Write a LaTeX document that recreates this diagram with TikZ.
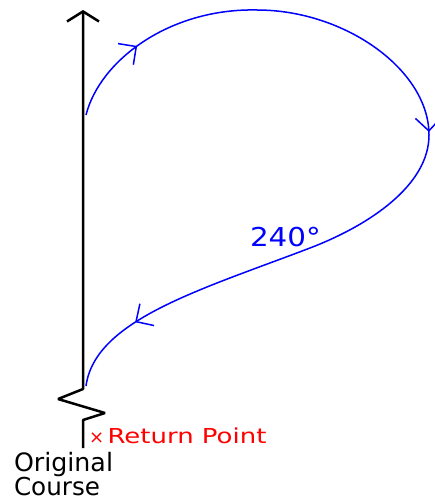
\documentclass[tikz,border=0pt]{standalone}
\usepackage{fontspec}
\usepackage{graphicx}
\setmainfont{DejaVu Sans}
\usetikzlibrary{arrows.meta,decorations.markings}
\definecolor{pblue}{RGB}{0,0,255}
\definecolor{pred}{RGB}{255,0,0}
\tikzset{
  course/.style={line width=2.5pt, black, line join=bevel},
  turnarrow/.tip={Straight Barb[length=13pt,width=26pt]},
  turn/.style={line width=1.5pt, pblue, postaction={decorate},
    decoration={markings,
      mark=at position 0.098 with {\arrow{turnarrow}},
      mark=at position 0.497 with {\arrow{turnarrow}},
      mark=at position 0.907 with {\arrow{turnarrow}}}},
  lbl/.style={inner sep=0pt, outer sep=0pt}
}
\begin{document}
\begin{tikzpicture}[x=1pt,y=-1pt]
\useasboundingbox (0,0) rectangle (435,500);
% black original course line
\coordinate (base) at (83,448);
\coordinate (top) at (83,10);
\coordinate (z1) at (83,420);
\coordinate (z2) at (105,413);
\coordinate (z3) at (58,399);
\coordinate (z4) at (83,389);
\draw[course, -{Straight Barb[length=10pt,width=32pt]}]
  (base) -- (z1) -- (z2) -- (z3) -- (z4) -- (top);
% blue turn
\coordinate (s) at (86,115);
\coordinate (e) at (86,386);
\draw[turn] (s) .. controls (100,60) and (170,8) .. (257,10)
  .. controls (345,10) and (429,70) .. (429,135)
  .. controls (429,185) and (370,225) .. (310,248)
  .. controls (200,290) and (95,320) .. (e);
% labels
\node[lbl, anchor=base west, text=pblue] (ang) at (250,246)
  {\scalebox{1.13}[1]{\fontsize{26}{30}\selectfont 240°}};
\node[lbl, anchor=base west, text=pred] (ret) at (89,443)
  {{\fontsize{18}{18}\selectfont ×}\hspace{3.5pt}\scalebox{1.26}[1]{\fontsize{20.6}{24}\selectfont Return Point}};
\node[lbl, anchor=base west] (orig) at (14,471.5)
  {\resizebox{99pt}{!}{Original}};
\node[lbl, anchor=base west] (orig2) at (14,495)
  {\resizebox{86pt}{!}{Course}};
\end{tikzpicture}
\end{document}
